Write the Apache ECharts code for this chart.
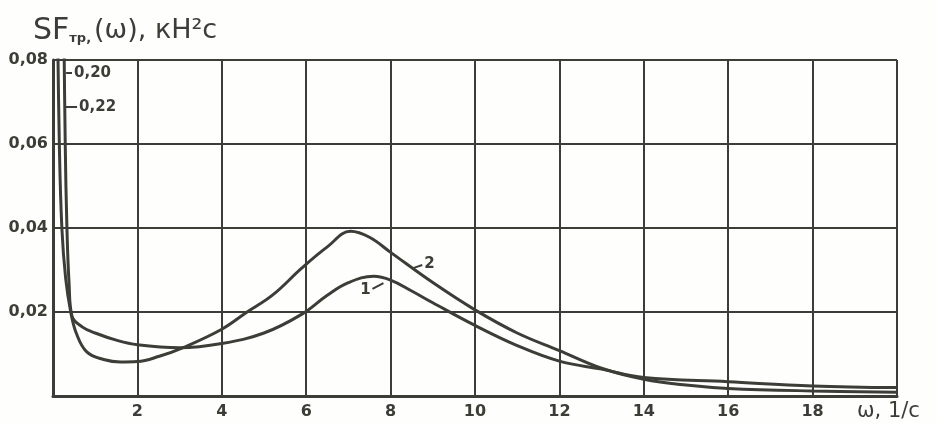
<!DOCTYPE html>
<html>
<head>
<meta charset="utf-8">
<script src="https://cdn.jsdelivr.net/npm/echarts@6/dist/echarts.min.js"></script>
<style>html,body{margin:0;padding:0;background:#fff;}#c{width:936px;height:423px;}</style>
</head>
<body>
<div id="c"></div>
<script>
// x ticks
var xTicks = [0, 2, 4, 6, 8, 10, 12, 14, 16, 18, 20];
var yTicks = [0, 0.02, 0.04, 0.06, 0.08];
// curve 1 (lower peak)
var curve1X = [0.25, 0.29, 0.33, 0.38, 0.45, 0.7, 1.0, 1.5, 2.0, 3.0, 4.0, 5.0, 5.9, 6.5, 7.0, 7.6, 8.0, 8.5, 9.0, 10.0, 11.0, 12.0, 13.0, 14.0, 16.0, 18.0, 20.0];
var curve1Y = [0.095, 0.06, 0.04, 0.027, 0.019, 0.0164, 0.015, 0.0133, 0.0122, 0.0115, 0.0125, 0.015, 0.0195, 0.024, 0.027, 0.0285, 0.0276, 0.025, 0.0222, 0.0168, 0.012, 0.0083, 0.0064, 0.0044, 0.0034, 0.0024, 0.002];
// curve 2 (higher peak)
var curve2X = [0.1, 0.15, 0.21, 0.3, 0.42, 0.55, 0.8, 1.2, 1.6, 2.0, 2.5, 3.1, 4.0, 4.6, 5.2, 5.9, 6.5, 7.05, 7.5, 8.0, 9.0, 10.0, 11.0, 12.0, 13.0, 14.0, 15.0, 16.0, 18.0, 20.0];
var curve2Y = [0.095, 0.06, 0.04, 0.028, 0.02, 0.015, 0.0105, 0.0087, 0.0081, 0.0082, 0.0094, 0.0116, 0.0159, 0.02, 0.024, 0.0305, 0.0355, 0.0392, 0.0378, 0.0342, 0.027, 0.0205, 0.015, 0.0108, 0.0066, 0.004, 0.0026, 0.0018, 0.0012, 0.0009];
// annotations: text, anchor point on curve, text point
var noteText = ['0,20', '0,22', '1', '2'];
var noteFrom = [[0.31, 0.0769], [0.30, 0.0688], [7.83, 0.0269], [8.55, 0.0305]];
var noteTo = [[0.45, 0.0769], [0.57, 0.0688], [7.57, 0.0255], [8.75, 0.0312]];

var ink = '#3b3d36';
function pairs(xs, ys) { return xs.map(function (x, i) { return [x, ys[i]]; }); }
var marks = noteText.map(function (t, i) {
  return [{ coord: noteFrom[i] }, { coord: noteTo[i], label: { formatter: t } }];
});

var chart = echarts.init(document.getElementById('c'));
chart.setOption({
  backgroundColor: '#fefefc',
  animation: false,
  title: {
    left: 28, top: 11,
    text: '{a|SF}{b|тр,}{c|(ω), кН²с}',
    textStyle: {
      rich: {
        a: { fontSize: 30, fontFamily: 'DejaVu Sans', color: ink, fontWeight: 'normal' },
        b: { fontSize: 13, fontFamily: 'DejaVu Sans', color: ink, fontWeight: 'bold', padding: [16, 3, 0, 0] },
        c: { fontSize: 27, fontFamily: 'DejaVu Sans', color: ink, fontWeight: 'normal' }
      }
    }
  },
  grid: { left: 53, right: 39, top: 60, bottom: 27, containLabel: false },
  xAxis: {
    type: 'value', min: 0, max: 20, interval: 2,
    name: 'ω, 1/c', nameLocation: 'end', nameGap: -40,
    nameTextStyle: { color: ink, fontSize: 21, fontFamily: 'DejaVu Sans', verticalAlign: 'top', padding: [5, 0, 0, 0] },
    axisLine: { show: true, lineStyle: { color: ink, width: 3 } },
    axisTick: { show: false },
    splitLine: { show: true, lineStyle: { color: ink, width: 2 } },
    axisLabel: {
      color: ink, fontSize: 16, fontWeight: 'bold', fontFamily: 'DejaVu Sans', margin: 8,
      formatter: function (v) { return (v === 0 || v === 20) ? '' : String(v); }
    }
  },
  yAxis: {
    type: 'value', min: 0, max: 0.08, interval: 0.02,
    axisLine: { show: true, lineStyle: { color: ink, width: 3 } },
    axisTick: { show: false },
    splitLine: { show: true, lineStyle: { color: ink, width: 2 } },
    axisLabel: {
      color: ink, fontSize: 16, fontWeight: 'bold', fontFamily: 'DejaVu Sans', margin: 5,
      formatter: function (v) { return v === 0 ? '' : v.toFixed(2).replace('.', ','); }
    }
  },
  series: [
    {
      type: 'line', name: '1', data: pairs(curve1X, curve1Y), showSymbol: false, symbol: 'none',
      smooth: 0.4, clip: true,
      lineStyle: { color: ink, width: 3 }
    },
    {
      type: 'line', name: '2', data: pairs(curve2X, curve2Y), showSymbol: false, symbol: 'none',
      smooth: 0.4, clip: true,
      lineStyle: { color: ink, width: 3 },
      markLine: {
        silent: true, symbol: 'none',
        lineStyle: { color: ink, width: 2, type: 'solid' },
        label: { show: true, position: 'end', color: ink, fontSize: 15, fontWeight: 'bold', fontFamily: 'DejaVu Sans', distance: 2 },
        data: marks
      }
    }
  ]
});
</script>
</body>
</html>
